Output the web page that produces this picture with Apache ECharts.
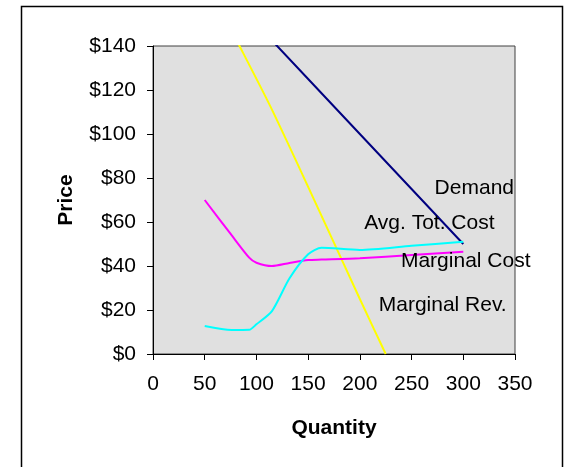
<!DOCTYPE html>
<html>
<head>
<meta charset="utf-8">
<style>
  html, body { margin: 0; padding: 0; background: #ffffff; }
  #chart { width: 567px; height: 467px; }
</style>
<script src="https://cdn.jsdelivr.net/npm/echarts@6/dist/echarts.min.js"></script>
</head>
<body>
<div id="chart"></div>
<script>
// Cost and revenue schedule for the firm
const quantity      = [50, 76, 93, 100, 115, 132, 150, 163, 200, 250, 300];
const avgTotalCost  = [70, 54, 43.8, 41.5, 40, 41.4, 42.7, 42.9, 43.5, 45, 46.5];
const marginalCost  = [12.7, 10.9, 11, 13.5, 19.5, 34.4, 45.3, 48.3, 47.3, 49.2, 51];

const demandQty     = [100, 150, 200, 250, 300];
const demandPrice   = [150, 125, 100, 75, 50];

const mrQty         = [50, 76, 113, 150, 200, 225];
const mrPrice       = [171, 147, 113, 76, 25, 0];

const xTicks = [0, 50, 100, 150, 200, 250, 300, 350];
const yTicks = [0, 20, 40, 60, 80, 100, 120, 140];

const FONT = "'Liberation Sans', Arial, sans-serif";

function pairs(xs, ys) { return xs.map((x, i) => [x, ys[i]]); }

const chart = echarts.init(document.getElementById('chart'), null, { renderer: 'canvas' });

chart.setOption({
  animation: false,
  backgroundColor: '#ffffff',
  grid: {
    left: 153, right: 52, top: 46, bottom: 113,
    show: true,
    backgroundColor: '#e0e0e0',
    borderColor: '#404040',
    borderWidth: 1
  },
  xAxis: {
    type: 'value',
    min: xTicks[0], max: xTicks[xTicks.length - 1], interval: 50,
    name: 'Quantity',
    nameLocation: 'middle',
    nameGap: 64,
    nameTextStyle: { fontFamily: FONT, fontSize: 21, fontWeight: 'bold', color: '#000' },
    axisLine: { show: true, onZero: false, lineStyle: { color: '#000', width: 1 } },
    axisTick: { show: true, length: 6, lineStyle: { color: '#000' } },
    axisLabel: { fontFamily: FONT, fontSize: 21, color: '#000', margin: 20 },
    splitLine: { show: false }
  },
  yAxis: {
    type: 'value',
    min: yTicks[0], max: yTicks[yTicks.length - 1], interval: 20,
    name: 'Price',
    nameLocation: 'middle',
    nameGap: 76,
    nameRotate: 90,
    nameTextStyle: { fontFamily: FONT, fontSize: 21, fontWeight: 'bold', color: '#000' },
    axisLine: { show: true, lineStyle: { color: '#000', width: 1 } },
    axisTick: { show: true, length: 6, lineStyle: { color: '#000' } },
    axisLabel: {
      fontFamily: FONT, fontSize: 21, color: '#000', margin: 17,
      formatter: v => '$' + v
    },
    splitLine: { show: false }
  },
  series: [
    {
      name: 'Demand', type: 'line', data: pairs(demandQty, demandPrice),
      showSymbol: false, clip: true,
      lineStyle: { color: '#000080', width: 2 }
    },
    {
      name: 'Marginal Rev.', type: 'line', data: pairs(mrQty, mrPrice),
      showSymbol: false, clip: true, smooth: 0.25,
      lineStyle: { color: '#ffff00', width: 2 }
    },
    {
      name: 'Avg. Tot. Cost', type: 'line', data: pairs(quantity, avgTotalCost),
      showSymbol: false, clip: true, smooth: 0.25,
      lineStyle: { color: '#ff00ff', width: 2 }
    },
    {
      name: 'Marginal Cost', type: 'line', data: pairs(quantity, marginalCost),
      showSymbol: false, clip: true, smooth: 0.25,
      lineStyle: { color: '#00ffff', width: 2 }
    }
  ],
  graphic: [
    // outer chart frame
    {
      type: 'rect', z: 100, silent: true,
      shape: { x: 21.5, y: 6.5, width: 541, height: 480 },
      style: { fill: null, stroke: '#000', lineWidth: 1.5 }
    },
    // curve captions
    { type: 'text', z: 110, style: { text: 'Demand', x: 514, y: 188, align: 'right', verticalAlign: 'middle', font: '21px ' + FONT, fill: '#000' } },
    { type: 'text', z: 110, style: { text: 'Avg. Tot. Cost', x: 494.5, y: 223, align: 'right', verticalAlign: 'middle', font: '21px ' + FONT, fill: '#000' } },
    { type: 'text', z: 110, style: { text: 'Marginal Cost', x: 530.5, y: 261, align: 'right', verticalAlign: 'middle', font: '21px ' + FONT, fill: '#000' } },
    { type: 'text', z: 110, style: { text: 'Marginal Rev.', x: 506.7, y: 305, align: 'right', verticalAlign: 'middle', font: '21px ' + FONT, fill: '#000' } }
  ]
});
</script>
</body>
</html>
